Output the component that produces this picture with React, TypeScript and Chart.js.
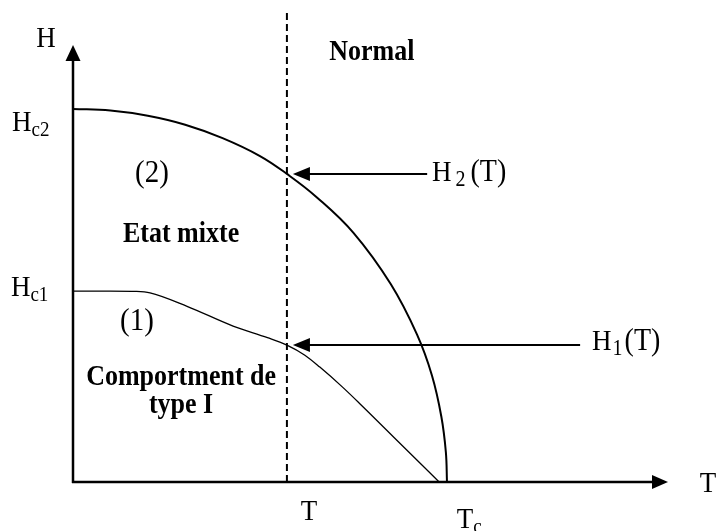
import { useEffect, useRef } from "react";
import { Chart, registerables } from "chart.js";

Chart.register(...registerables);

// Upper critical field curve H_c2(T), reduced units (T/Tc, H/Hc2)
const hc2T = [0, 0.1, 0.2, 0.3, 0.4, 0.5, 0.572, 0.65, 0.75, 0.85, 0.92, 0.96, 0.985, 0.997, 1.0];
const hc2H = [1.0, 0.996, 0.982, 0.958, 0.922, 0.874, 0.826, 0.765, 0.668, 0.53, 0.395, 0.285, 0.175, 0.08, 0];

// Lower critical field curve H_c1(T)
const hc1T = [0, 0.1, 0.17, 0.206, 0.305, 0.428, 0.52, 0.572, 0.62, 0.66, 0.72, 0.767, 0.87, 0.979];
const hc1H = [0.512, 0.512, 0.511, 0.507, 0.471, 0.418, 0.387, 0.367, 0.34, 0.308, 0.255, 0.21, 0.108, 0];

// Temperature marked by the dashed line, and the fields read there
const tMark = 0.572;
const h2AtT = 0.826;
const h1AtT = 0.367;

// Axis extents
const tMax = 1.591;
const hMax = 1.1716;

const SERIF = '"Liberation Serif", "Times New Roman", serif';
const STRETCH = 1.12;

const diagramPlugin = {
  id: "diagram",
  afterDatasetsDraw(chart: any) {
    const { ctx, chartArea } = chart;
    const xs = chart.scales.x;
    const ys = chart.scales.y;
    const px = (t: number) => xs.getPixelForValue(t);
    const py = (h: number) => ys.getPixelForValue(h);
    const x0 = px(0);
    const y0 = py(0);

    ctx.save();
    ctx.strokeStyle = "#000";
    ctx.fillStyle = "#000";

    // axes with arrow heads
    ctx.lineWidth = 2.5;
    ctx.beginPath();
    ctx.moveTo(x0, y0 + 1);
    ctx.lineTo(x0, chartArea.top + 14);
    ctx.moveTo(x0 - 1, y0);
    ctx.lineTo(chartArea.right - 14, y0);
    ctx.stroke();

    ctx.beginPath();
    ctx.moveTo(x0, chartArea.top);
    ctx.lineTo(x0 - 7.5, chartArea.top + 16);
    ctx.lineTo(x0 + 7.5, chartArea.top + 16);
    ctx.closePath();
    ctx.fill();

    ctx.beginPath();
    ctx.moveTo(chartArea.right, y0);
    ctx.lineTo(chartArea.right - 16, y0 - 7);
    ctx.lineTo(chartArea.right - 16, y0 + 7);
    ctx.closePath();
    ctx.fill();

    // dashed line at T
    const xT = px(tMark);
    ctx.lineWidth = 2;
    ctx.setLineDash([7, 4]);
    ctx.beginPath();
    ctx.moveTo(xT, 13);
    ctx.lineTo(xT, y0);
    ctx.stroke();
    ctx.setLineDash([]);

    // pointer arrows to H2(T) and H1(T)
    const pointer = (h: number, tStart: number) => {
      const y = py(h);
      const tip = xT + 6;
      ctx.lineWidth = 2;
      ctx.beginPath();
      ctx.moveTo(px(tStart), y);
      ctx.lineTo(tip + 14, y);
      ctx.stroke();
      ctx.beginPath();
      ctx.moveTo(tip, y);
      ctx.lineTo(tip + 17, y - 7);
      ctx.lineTo(tip + 17, y + 7);
      ctx.closePath();
      ctx.fill();
    };
    pointer(h2AtT, 0.947);
    pointer(h1AtT, 1.356);

    // text, slightly stretched vertically
    const draw = (s: string, x: number, y: number, font: string, align: CanvasTextAlign = "left") => {
      ctx.font = font;
      ctx.textAlign = align;
      ctx.textBaseline = "alphabetic";
      ctx.save();
      ctx.translate(x, y);
      ctx.scale(1, STRETCH);
      ctx.fillText(s, 0, 0);
      ctx.restore();
      return ctx.measureText(s).width;
    };
    const reg = (n: number) => `${n}px ${SERIF}`;
    const bold = (n: number) => `bold ${n}px ${SERIF}`;
    const text = (s: string, t: number, h: number, font: string, align: CanvasTextAlign = "left") =>
      draw(s, px(t), py(h), font, align);
    const withSub = (
      main: string,
      sub: string,
      tail: string,
      t: number,
      h: number,
      gap: number,
      subSize: number,
      tailGap = 0
    ) => {
      const x = px(t);
      const y = py(h);
      let cx = x + draw(main, x, y, reg(27)) + gap;
      cx += draw(sub, cx, y + 5, reg(subSize)) + tailGap;
      if (tail) draw(tail, cx, y, reg(28));
    };

    text("H", -0.072, 1.166, reg(27), "center");
    text("T", 1.676, -0.027, reg(27));
    text("T", 0.631, -0.102, reg(27), "center");
    withSub("H", "c2", "", -0.163, 0.941, 0, 19);
    withSub("H", "c1", "", -0.166, 0.499, 0, 19);
    withSub("T", "c", "", 1.026, -0.123, 0, 19);
    withSub("H", "2", "(T)", 0.96, 0.807, 4, 20, 5);
    withSub("H", "1", "(T)", 1.388, 0.354, 1, 20, 2);

    text("(2)", 0.211, 0.804, reg(29), "center");
    text("(1)", 0.171, 0.408, reg(29), "center");
    text("Normal", 0.799, 1.131, bold(26), "center");
    text("Etat mixte", 0.289, 0.643, bold(26), "center");
    text("Comportment de", 0.289, 0.26, bold(26), "center");
    text("type I", 0.289, 0.186, bold(26), "center");

    ctx.restore();
  },
};

export default function App() {
  const canvasRef = useRef<HTMLCanvasElement | null>(null);

  useEffect(() => {
    document.body.style.margin = "0";
    const canvas = canvasRef.current;
    if (!canvas) return;
    const chart = new Chart(canvas, {
      type: "scatter",
      data: {
        datasets: [
          {
            label: "Hc2",
            data: hc2T.map((t, i) => ({ x: t, y: hc2H[i] })),
            showLine: true,
            borderColor: "#000",
            borderWidth: 2,
            pointRadius: 0,
            tension: 0.4,
          },
          {
            label: "Hc1",
            data: hc1T.map((t, i) => ({ x: t, y: hc1H[i] })),
            showLine: true,
            borderColor: "#000",
            borderWidth: 1.3,
            pointRadius: 0,
            cubicInterpolationMode: "monotone",
          },
        ],
      },
      options: {
        responsive: false,
        animation: false,
        layout: { padding: { left: 73, right: 49, top: 45, bottom: 49 } },
        plugins: { legend: { display: false }, tooltip: { enabled: false } },
        scales: {
          x: { type: "linear", min: 0, max: tMax, display: false },
          y: { type: "linear", min: 0, max: hMax, display: false },
        },
      },
      plugins: [diagramPlugin],
    });
    return () => chart.destroy();
  }, []);

  return (
    <div style={{ width: 717, height: 531, background: "#fff" }}>
      <canvas ref={canvasRef} width={717} height={531} style={{ display: "block" }} />
    </div>
  );
}
